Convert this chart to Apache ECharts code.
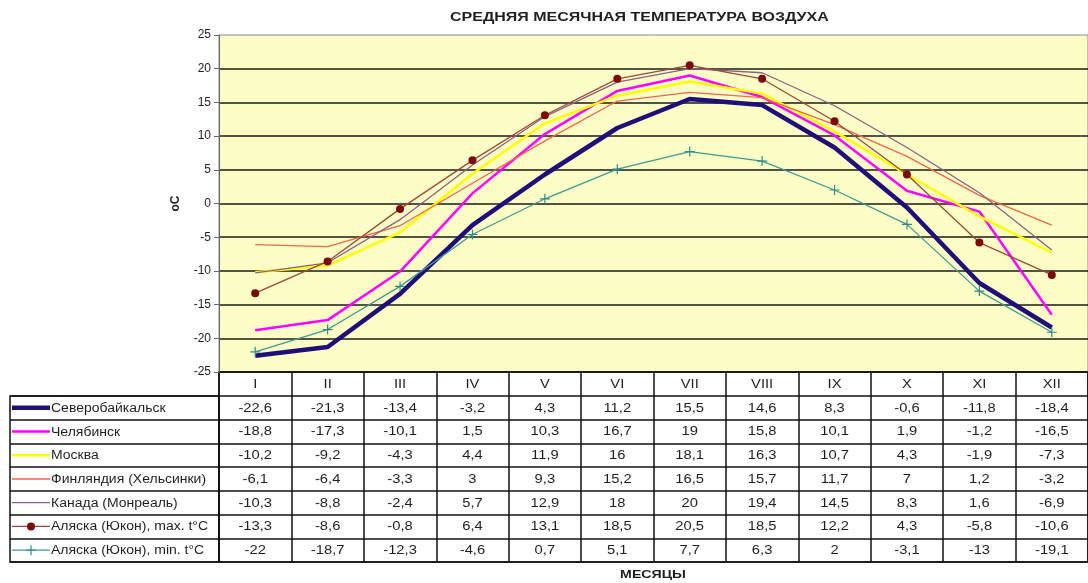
<!DOCTYPE html>
<html>
<head>
<meta charset="utf-8">
<script src="https://cdn.jsdelivr.net/npm/echarts@6/dist/echarts.min.js"></script>
<style>
  html, body { margin: 0; padding: 0; background: #fff; }
  #chart { width: 1088px; height: 583px; }
</style>
</head>
<body>
<div id="chart"></div>
<script>
// Monthly mean air temperature, °C
const months = ['I', 'II', 'III', 'IV', 'V', 'VI', 'VII', 'VIII', 'IX', 'X', 'XI', 'XII'];
const yTicks = { min: -25, max: 25, step: 5 };

const severobaikalsk = [-22.6, -21.3, -13.4, -3.2, 4.3, 11.2, 15.5, 14.6, 8.3, -0.6, -11.8, -18.4];
const chelyabinsk    = [-18.8, -17.3, -10.1, 1.5, 10.3, 16.7, 19, 15.8, 10.1, 1.9, -1.2, -16.5];
const moscow         = [-10.2, -9.2, -4.3, 4.4, 11.9, 16, 18.1, 16.3, 10.7, 4.3, -1.9, -7.3];
const helsinki       = [-6.1, -6.4, -3.3, 3, 9.3, 15.2, 16.5, 15.7, 11.7, 7, 1.2, -3.2];
const montreal       = [-10.3, -8.8, -2.4, 5.7, 12.9, 18, 20, 19.4, 14.5, 8.3, 1.6, -6.9];
const yukonMax       = [-13.3, -8.6, -0.8, 6.4, 13.1, 18.5, 20.5, 18.5, 12.2, 4.3, -5.8, -10.6];
const yukonMin       = [-22, -18.7, -12.3, -4.6, 0.7, 5.1, 7.7, 6.3, 2, -3.1, -13, -19.1];

const seriesNames = [
  'Северобайкальск',
  'Челябинск',
  'Москва',
  'Финляндия (Хельсинки)',
  'Канада (Монреаль)',
  'Аляска (Юкон), max. t°C',
  'Аляска (Юкон), min. t°C'
];
const seriesValues = [severobaikalsk, chelyabinsk, moscow, helsinki, montreal, yukonMax, yukonMin];

const titleText = 'СРЕДНЯЯ МЕСЯЧНАЯ ТЕМПЕРАТУРА ВОЗДУХА';
const xName = 'МЕСЯЦЫ';
const yName = 'оС';

// Line appearance, one entry per series
const looks = [
  { color: '#1e0f7a', width: 4.5, marker: 'none' },
  { color: '#ff00ff', width: 2.5, marker: 'none' },
  { color: '#ffff00', width: 2.5, marker: 'none' },
  { color: '#f4654a', width: 1.3, marker: 'none' },
  { color: '#8e5f86', width: 1.3, marker: 'none' },
  { color: '#9a4a3a', width: 1.3, marker: 'circle', markerColor: '#7d0a0a' },
  { color: '#3f9a96', width: 1.3, marker: 'plus', markerColor: '#2f8a8a' }
];

const FONT = '"Liberation Sans", Arial, sans-serif';
const INK = '#1f1f1f';
const WIDE = 1.18; // horizontal stretch of the table and caption lettering
const fmt = v => String(v).replace('.', ',');
const PLUS = 'path://M4.4,0h1.2v10h-1.2z M0,4.4h10v1.2h-10z';

// Rows of the data table: month header, then one row per series
const tableRows = ['header'].concat(seriesNames);
const cells = [];
months.forEach((m, i) => cells.push([i, 0, m]));
seriesValues.forEach((vals, r) => vals.forEach((v, i) => cells.push([i, r + 1, fmt(v)])));

const lineSeries = seriesNames.map((name, k) => {
  const lk = looks[k];
  return {
    name,
    type: 'line',
    xAxisIndex: 0,
    yAxisIndex: 0,
    data: seriesValues[k],
    z: 3 + k,
    lineStyle: { color: lk.color, width: lk.width },
    itemStyle: { color: lk.markerColor || lk.color },
    symbol: lk.marker === 'circle' ? 'circle' : (lk.marker === 'plus' ? PLUS : 'none'),
    symbolSize: lk.marker === 'circle' ? 8 : 10,
    showSymbol: lk.marker !== 'none',
    emphasis: { disabled: true }
  };
});

const chart = echarts.init(document.getElementById('chart'), null, { renderer: 'canvas' });

chart.setOption({
  animation: false,
  backgroundColor: '#ffffff',
  textStyle: { fontFamily: FONT },
  graphic: [
    {
      type: 'text', x: 450, y: 17, scaleX: WIDE + 0.05,
      style: { text: titleText, font: 'bold 13px ' + FONT, fill: INK, textAlign: 'left', textVerticalAlign: 'middle' }
    },
    {
      type: 'text', x: 653, y: 575, scaleX: WIDE + 0.05,
      style: { text: xName, font: 'bold 11.5px ' + FONT, fill: INK, textAlign: 'center', textVerticalAlign: 'middle' }
    }
  ],
  grid: [
    // plot
    { left: 219, right: 0, top: 35, height: 337, show: true, backgroundColor: '#fdfdc6', borderColor: '#8a8a8a', borderWidth: 1 },
    // data table
    { left: 219, right: 0, top: 372, bottom: 21, show: true, borderColor: '#111', borderWidth: 1.5 },
    // legend column of the table
    { left: 10, width: 209, top: 396, bottom: 21, show: true, borderColor: '#111', borderWidth: 1.5 }
  ],
  xAxis: [
    {
      gridIndex: 0, type: 'category', data: months, boundaryGap: true,
      axisLine: { show: false }, axisTick: { show: false }, axisLabel: { show: false }
    },
    {
      gridIndex: 1, type: 'category', data: months, boundaryGap: true, position: 'bottom',
      axisLine: { show: false }, axisTick: { show: false }, axisLabel: { show: false },
      splitLine: { show: true, interval: 0, lineStyle: { color: '#111', width: 1.5 } }
    },
    { gridIndex: 2, type: 'value', min: 0, max: 1, show: false }
  ],
  yAxis: [
    {
      gridIndex: 0, type: 'value', min: yTicks.min, max: yTicks.max, interval: yTicks.step,
      axisLine: { show: true, lineStyle: { color: '#666', width: 1 } },
      axisTick: { show: true, length: 5, lineStyle: { color: '#666' } },
      axisLabel: { fontFamily: FONT, fontSize: 12, color: INK, margin: 8 },
      splitLine: { show: true, showMinLine: false, showMaxLine: false, lineStyle: { color: '#1a1a1a', width: 1.5 } },
      name: yName, nameLocation: 'middle', nameRotate: 90, nameGap: 37,
      nameTextStyle: { fontFamily: FONT, fontSize: 12, fontWeight: 'bold', color: INK }
    },
    {
      gridIndex: 1, type: 'category', data: tableRows, inverse: true, boundaryGap: true,
      axisLine: { show: false }, axisTick: { show: false }, axisLabel: { show: false },
      splitLine: { show: true, interval: 0, lineStyle: { color: '#111', width: 1.5 } }
    },
    {
      gridIndex: 2, type: 'category', data: seriesNames, inverse: true, boundaryGap: true,
      axisLine: { show: false }, axisTick: { show: false }, axisLabel: { show: false },
      splitLine: { show: true, interval: 0, lineStyle: { color: '#111', width: 1.5 } }
    }
  ],
  series: lineSeries.concat([
    {
      name: 'table',
      type: 'custom',
      xAxisIndex: 1,
      yAxisIndex: 1,
      data: cells,
      silent: true,
      renderItem: (params, api) => {
        const c = api.coord([api.value(0), api.value(1)]);
        return {
          type: 'text', x: c[0], y: c[1] + 0.5, scaleX: WIDE,
          style: {
            text: cells[params.dataIndex][2], fill: INK,
            font: '12.5px ' + FONT, textAlign: 'center', textVerticalAlign: 'middle'
          }
        };
      }
    },
    {
      name: 'legend',
      type: 'custom',
      xAxisIndex: 2,
      yAxisIndex: 2,
      data: seriesNames.map((n, i) => [0, i]),
      silent: true,
      renderItem: (params, api) => {
        const k = params.dataIndex;
        const lk = looks[k];
        const c = api.coord([0, api.value(1)]);
        const x0 = c[0] + 2, x1 = x0 + 38, y = c[1];
        const children = [{
          type: 'line',
          shape: { x1: x0, y1: y, x2: x1, y2: y },
          style: { stroke: lk.color, lineWidth: lk.width }
        }];
        const mx = (x0 + x1) / 2;
        if (lk.marker === 'circle') {
          children.push({ type: 'circle', shape: { cx: mx, cy: y, r: 4 }, style: { fill: lk.markerColor } });
        } else if (lk.marker === 'plus') {
          children.push({ type: 'line', shape: { x1: mx - 5, y1: y, x2: mx + 5, y2: y }, style: { stroke: lk.markerColor, lineWidth: 1.2 } });
          children.push({ type: 'line', shape: { x1: mx, y1: y - 5, x2: mx, y2: y + 5 }, style: { stroke: lk.markerColor, lineWidth: 1.2 } });
        }
        children.push({
          type: 'text',
          x: x1 + 1, y: y + 0.5, scaleX: 1.12,
          style: {
            text: seriesNames[k], fill: INK,
            font: '12.5px ' + FONT, textAlign: 'left', textVerticalAlign: 'middle'
          }
        });
        return { type: 'group', children };
      }
    }
  ])
});
</script>
</body>
</html>
